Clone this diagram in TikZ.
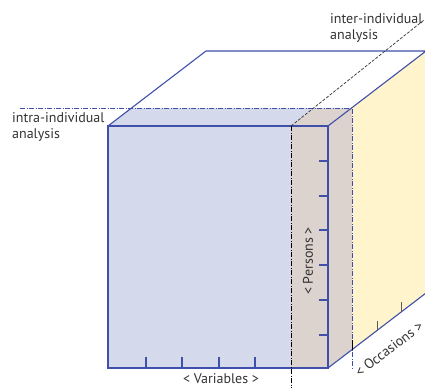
\documentclass[tikz,border=0pt]{standalone}
\usepackage{fontspec}
\setmainfont{PT Sans}
\usetikzlibrary{positioning}
\definecolor{cubeblue}{HTML}{3F4FAA}
\definecolor{lavender}{HTML}{D5D9EC}
\definecolor{taupe}{HTML}{DCD3CF}
\definecolor{cream}{HTML}{FFF4CC}
\definecolor{inkgrey}{HTML}{333333}
\tikzset{
  edge/.style={draw=cubeblue, line width=1.1pt},
  cut/.style={draw=cubeblue, dash pattern=on 5pt off 1.5pt on 1pt off 1.5pt, line width=0.8pt},
  tickmark/.style={draw=cubeblue, line width=1.1pt},
  label text/.style={text=inkgrey, inner sep=0pt, font=\fontsize{14}{16.5}\selectfont}
}

\begin{document}
\begin{tikzpicture}[x=1pt,y=-1pt]
	\useasboundingbox (0,0) rectangle (425,388);
	% corners of the cube
	\coordinate (ftl) at (108,126);
	\coordinate (ftr) at (328,126);
	\coordinate (fbl) at (108,368);
	\coordinate (fbr) at (328,368);
	\coordinate (btl) at (206,51);
	\coordinate (btr) at (426,51);
	\coordinate (bbr) at (426,293);
	% slices
	\fill[lavender] (ftl) rectangle (291,368);
	\fill[lavender] (ftl) -- (291,126) -- (315,108) -- (131.5,108) -- cycle;
	\fill[taupe] (291,126) -- (ftr) -- (352,108) -- (315,108) -- cycle;
	\fill[taupe] (291,126) rectangle (fbr);
	\fill[taupe] (ftr) -- (352,108) -- (352,349.6) -- (fbr) -- cycle;
	\fill[cream] (352,108) -- (btr) -- (bbr) -- (352,349.6) -- cycle;
	% cube
	\draw[edge] (ftl) rectangle (fbr);
	\draw[edge] (ftl) -- (btl) -- (btr) -- (ftr);
	\draw[edge] (fbr) -- (bbr);
	% cuts
	\draw[cut] (20,108) -- (352,108) -- (352,368);
	\draw[black, dash pattern=on 5pt off 1.5pt on 1pt off 1.5pt, line width=0.7pt] (291,126) -- (291,388);
	\draw[inkgrey, dash pattern=on 3pt off 1.5pt, line width=0.7pt] (291,126) -- (424,20);
	% ticks
	\foreach \x in {146,182,219,255}
		\draw[tickmark] (\x,368) -- (\x,357);
	\foreach \y in {161,196,230,265,300,335}
		\draw[tickmark] (328,\y) -- (319,\y);
	\draw[black, line width=1pt] (352,349.6) -- (352,340);
	\foreach \x in {377,401}
		\draw[inkgrey!80, line width=0.8pt] (\x,{368-(\x-328)*0.765}) -- +(0,-10);
	% labels
	\node[label text, align=left, anchor=north west] (intra) at (12,112) {intra-individual\\analysis};
	\node[label text, align=left, anchor=north west] (inter) at (330,13) {inter-individual\\analysis};
	\node[label text, rotate=90] (persons) at (308,261) {< Persons >};
	\node[label text] (variables) at (221,379) {< Variables >};
	\node[label text, rotate=37.4] (occasions) at (389,349) {< Occasions >};
\end{tikzpicture}
\end{document}
